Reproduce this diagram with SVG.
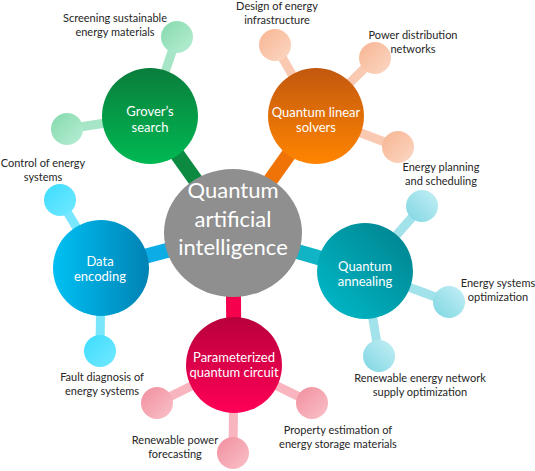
<svg xmlns="http://www.w3.org/2000/svg" width="535" height="471" viewBox="0 0 535 471">
<defs>
<linearGradient id="gGreen" x1="0" y1="0" x2="0" y2="1"><stop offset="0" stop-color="#0a7d3c"/><stop offset="1" stop-color="#00b953"/></linearGradient>
<linearGradient id="gOrange" x1="0" y1="0" x2="0" y2="1"><stop offset="0" stop-color="#c2580f"/><stop offset="1" stop-color="#ff8500"/></linearGradient>
<linearGradient id="gTeal" x1="1" y1="0" x2="0" y2="1"><stop offset="0" stop-color="#00808c"/><stop offset="1" stop-color="#00bccb"/></linearGradient>
<linearGradient id="gBlue" x1="0" y1="0" x2="1" y2="0"><stop offset="0" stop-color="#00c0f4"/><stop offset="1" stop-color="#0082b4"/></linearGradient>
<linearGradient id="gRed" x1="0" y1="0" x2="0" y2="1"><stop offset="0" stop-color="#b8003c"/><stop offset="1" stop-color="#ff0057"/></linearGradient>
<linearGradient id="sGreen" x1="0" y1="0" x2="1" y2="1"><stop offset="0" stop-color="#84d9ac"/><stop offset="1" stop-color="#b8eed5"/></linearGradient>
<linearGradient id="sOrange" x1="0" y1="0" x2="1" y2="1"><stop offset="0" stop-color="#f7b592"/><stop offset="1" stop-color="#fcd7c4"/></linearGradient>
<linearGradient id="sTeal" x1="0" y1="1" x2="1" y2="0"><stop offset="0" stop-color="#7ed6e3"/><stop offset="1" stop-color="#c5eff4"/></linearGradient>
<linearGradient id="sBlue" x1="0" y1="0" x2="1" y2="1"><stop offset="0" stop-color="#3ddcff"/><stop offset="1" stop-color="#72e9ff"/></linearGradient>
<linearGradient id="sRed" x1="0" y1="0" x2="1" y2="1"><stop offset="0" stop-color="#f18e9d"/><stop offset="1" stop-color="#f9c2ca"/></linearGradient>
</defs>
<style>
.lbl{font-family:Lato,"Liberation Sans",sans-serif;font-size:11px;fill:#262626;text-anchor:middle}
.nd{font-family:Lato,"Liberation Sans",sans-serif;font-size:13px;fill:#ffffff;text-anchor:middle}
.ctr{font-family:Lato,"Liberation Sans",sans-serif;font-size:22px;fill:#ffffff;text-anchor:middle}
.thick{stroke-width:15;fill:none}
.thin{stroke-width:9;fill:none}
</style>
<g id="connectors">
<line class="thick" x1="233" y1="233" x2="150" y2="116" stroke="#0c8a41"/>
<line class="thick" x1="233" y1="233" x2="316" y2="116" stroke="#f07308"/>
<line class="thick" x1="233" y1="233" x2="365" y2="271" stroke="#10b4c4"/>
<line class="thick" x1="233" y1="233" x2="101" y2="268" stroke="#0cace6"/>
<line class="thick" x1="233" y1="233" x2="234" y2="365" stroke="#f5004c"/>
<line class="thin" x1="150" y1="116" x2="177" y2="37" stroke="#a6e5c6"/>
<line class="thin" x1="150" y1="116" x2="67" y2="129" stroke="#a6e5c6"/>
<line class="thin" x1="316" y1="116" x2="275" y2="45" stroke="#fac9b1"/>
<line class="thin" x1="316" y1="116" x2="375" y2="58" stroke="#fac9b1"/>
<line class="thin" x1="316" y1="116" x2="398" y2="147" stroke="#fac9b1"/>
<line class="thin" x1="365" y1="271" x2="422" y2="206" stroke="#a2e2eb"/>
<line class="thin" x1="365" y1="271" x2="449" y2="302" stroke="#a2e2eb"/>
<line class="thin" x1="365" y1="271" x2="379" y2="356" stroke="#a2e2eb"/>
<line class="thin" x1="101" y1="268" x2="60" y2="200" stroke="#79e6fc"/>
<line class="thin" x1="101" y1="268" x2="100" y2="351" stroke="#79e6fc"/>
<line class="thin" x1="234" y1="365" x2="157" y2="403" stroke="#f8b5bf"/>
<line class="thin" x1="234" y1="365" x2="233" y2="453" stroke="#f8b5bf"/>
<line class="thin" x1="234" y1="365" x2="312" y2="403" stroke="#f8b5bf"/>
</g>
<g id="center">
<ellipse cx="233" cy="233" rx="69" ry="64" fill="#8f8f8f"/>
<text class="ctr" x="233" y="198">Quantum</text>
<text class="ctr" x="233" y="227">artificial</text>
<text class="ctr" x="233" y="255">intelligence</text>
</g>
<g id="grover">
<circle cx="150" cy="116" r="48" fill="url(#gGreen)"/>
<text class="nd" x="150" y="116">Grover’s</text>
<text class="nd" x="150" y="132">search</text>
</g>
<g id="qls">
<circle cx="316" cy="116" r="48" fill="url(#gOrange)"/>
<text class="nd" x="316" y="117">Quantum linear</text>
<text class="nd" x="316" y="132">solvers</text>
</g>
<g id="annealing">
<circle cx="365" cy="271" r="48" fill="url(#gTeal)"/>
<text class="nd" x="365" y="271">Quantum</text>
<text class="nd" x="365" y="286">annealing</text>
</g>
<g id="encoding">
<circle cx="101" cy="268" r="48" fill="url(#gBlue)"/>
<text class="nd" x="100" y="266">Data</text>
<text class="nd" x="100" y="281">encoding</text>
</g>
<g id="pqc">
<circle cx="234" cy="365" r="48" fill="url(#gRed)"/>
<text class="nd" x="234" y="362">Parameterized</text>
<text class="nd" x="234" y="377">quantum circuit</text>
</g>
<g id="leaf-green-top"><circle cx="177" cy="37" r="16" fill="url(#sGreen)"/></g>
<g id="leaf-green-left"><circle cx="67" cy="129" r="16" fill="url(#sGreen)"/></g>
<g id="leaf-orange-top"><circle cx="275" cy="45" r="16" fill="url(#sOrange)"/></g>
<g id="leaf-orange-right-top"><circle cx="375" cy="58" r="16" fill="url(#sOrange)"/></g>
<g id="leaf-orange-right"><circle cx="398" cy="147" r="16" fill="url(#sOrange)"/></g>
<g id="leaf-teal-top"><circle cx="422" cy="206" r="16" fill="url(#sTeal)"/></g>
<g id="leaf-teal-right"><circle cx="449" cy="302" r="16" fill="url(#sTeal)"/></g>
<g id="leaf-teal-bottom"><circle cx="379" cy="356" r="16" fill="url(#sTeal)"/></g>
<g id="leaf-blue-top"><circle cx="60" cy="200" r="16" fill="url(#sBlue)"/></g>
<g id="leaf-blue-bottom"><circle cx="100" cy="351" r="16" fill="url(#sBlue)"/></g>
<g id="leaf-red-left"><circle cx="157" cy="403" r="16" fill="url(#sRed)"/></g>
<g id="leaf-red-bottom"><circle cx="233" cy="453" r="16" fill="url(#sRed)"/></g>
<g id="leaf-red-right"><circle cx="312" cy="403" r="16" fill="url(#sRed)"/></g>
<g id="labels">
<text class="lbl" x="115" y="22">Screening sustainable</text>
<text class="lbl" x="115" y="36">energy materials</text>
<text class="lbl" x="43" y="167">Control of energy</text>
<text class="lbl" x="43" y="181">systems</text>
<text class="lbl" x="277" y="10">Design of energy</text>
<text class="lbl" x="277" y="24">infrastructure</text>
<text class="lbl" x="413" y="39">Power distribution</text>
<text class="lbl" x="413" y="53">networks</text>
<text class="lbl" x="441" y="171">Energy planning</text>
<text class="lbl" x="441" y="185">and scheduling</text>
<text class="lbl" x="498" y="287">Energy systems</text>
<text class="lbl" x="498" y="301">optimization</text>
<text class="lbl" x="420" y="382">Renewable energy network</text>
<text class="lbl" x="420" y="396">supply optimization</text>
<text class="lbl" x="102" y="381">Fault diagnosis of</text>
<text class="lbl" x="102" y="395">energy systems</text>
<text class="lbl" x="175" y="444">Renewable power</text>
<text class="lbl" x="175" y="458">forecasting</text>
<text class="lbl" x="338" y="434">Property estimation of</text>
<text class="lbl" x="338" y="448">energy storage materials</text>
</g>
</svg>
